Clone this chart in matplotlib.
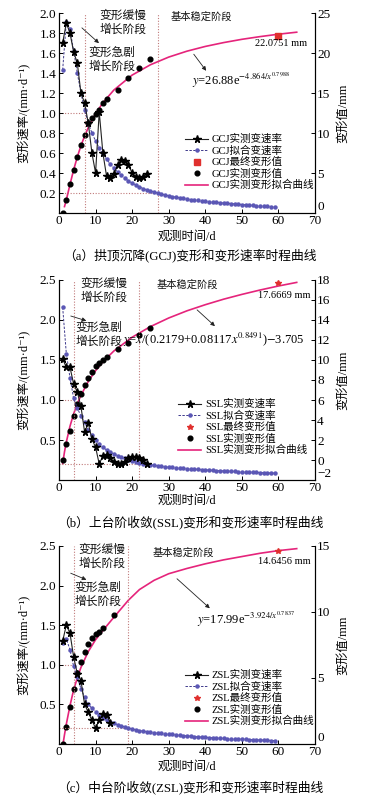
import matplotlib
matplotlib.use('Agg')
import matplotlib.pyplot as plt
from matplotlib.lines import Line2D

plt.rcParams['font.family'] = ['Liberation Serif', 'Noto Sans CJK SC', 'DejaVu Sans']
plt.rcParams['mathtext.fontset'] = 'stix'
plt.rcParams['axes.linewidth'] = 0.8

# ---------------- data ----------------
fit_days = list(range(1, 60))

# GCJ (a)
gcj_rate_days = list(range(1, 25))
gcj_rate = [1.70, 1.90, 1.80, 1.61, 1.50, 1.20, 1.10, 0.90, 0.60, 0.40, 1.01, 0.60,
            0.37, 0.35, 0.39, 0.48, 0.53, 0.52, 0.48, 0.40, 0.36, 0.35, 0.36, 0.39]
gcj_fit_rate = [1.43, 1.91, 1.84, 1.62, 1.40, 1.20, 1.03, 0.90, 0.80, 0.72, 0.65, 0.59,
                0.54, 0.49, 0.45, 0.41, 0.38, 0.35, 0.32, 0.30, 0.28, 0.26, 0.245, 0.23,
                0.22, 0.21, 0.20, 0.19, 0.18, 0.172, 0.165, 0.158, 0.152, 0.146, 0.14,
                0.135, 0.13, 0.126, 0.122, 0.118, 0.114, 0.11, 0.107, 0.104, 0.10, 0.097,
                0.094, 0.091, 0.088, 0.085, 0.082, 0.079, 0.076, 0.073, 0.07, 0.068,
                0.066, 0.063, 0.06]
gcj_def_days = [1, 2, 3, 4, 5, 6, 7, 8, 9, 10, 11, 12, 13, 16, 19, 22, 25]
gcj_def = [0.0, 1.6, 3.6, 5.4, 7.0, 8.5, 9.75, 11.3, 11.9, 12.4, 12.9, 13.7, 14.2,
           15.4, 16.9, 18.1, 19.2]
gcj_curve_x = [1.5, 2, 2.5, 3, 4, 5, 6, 7, 8, 10, 12, 15, 20, 25, 30, 35, 40, 45, 50, 55, 60, 65]
gcj_curve_y = [0.80, 1.64, 2.59, 3.56, 5.39, 7.00, 8.41, 9.62, 10.67, 12.41, 13.78, 15.37,
               17.24, 18.53, 19.49, 20.23, 20.82, 21.30, 21.71, 22.05, 22.35, 22.60]
gcj_final = (60, 22.0751)
gcj_stage = [7, 27]

# SSL (b)
ssl_rate_days = list(range(1, 25))
ssl_rate = [1.51, 1.41, 1.41, 1.20, 1.10, 0.92, 0.60, 0.71, 0.51, 0.41, 0.20, 0.30,
            0.31, 0.27, 0.23, 0.20, 0.20, 0.23, 0.27, 0.29, 0.29, 0.28, 0.25, 0.20]
ssl_fit_rate = [2.16, 1.58, 1.28, 1.02, 0.90, 0.80, 0.72, 0.63, 0.56, 0.50, 0.45, 0.41,
                0.375, 0.35, 0.325, 0.305, 0.285, 0.27, 0.255, 0.24, 0.225, 0.215, 0.205,
                0.198, 0.19, 0.183, 0.177, 0.171, 0.166, 0.161, 0.157, 0.153, 0.149,
                0.145, 0.142, 0.139, 0.136, 0.133, 0.13, 0.127, 0.124, 0.121, 0.118,
                0.116, 0.113, 0.111, 0.109, 0.107, 0.105, 0.103, 0.101, 0.099, 0.097,
                0.095, 0.093, 0.091, 0.089, 0.087, 0.085]
ssl_def_days = [1, 2, 3, 4, 5, 6, 7, 8, 9, 10, 11, 12, 13, 16, 19, 22, 25]
ssl_def = [0.0, 1.6, 2.9, 4.4, 5.6, 6.6, 7.5, 8.2, 8.8, 9.4, 9.7, 10.0, 10.3,
           11.1, 11.7, 12.5, 13.2]
ssl_curve_x = [1, 1.5, 2, 3, 4, 5, 6, 8, 10, 12, 15, 20, 25, 30, 35, 40, 45, 50, 55, 60, 65]
ssl_curve_y = [-0.36, 0.81, 1.79, 3.37, 4.61, 5.62, 6.47, 7.85, 8.93, 9.82, 10.90, 12.28,
               13.34, 14.20, 14.92, 15.53, 16.08, 16.56, 17.00, 17.40, 17.76]
ssl_final = (60, 17.6669)
ssl_stage = [4, 22]

# ZSL (c)
zsl_rate_days = list(range(1, 15))
zsl_rate = [1.30, 1.50, 1.40, 1.10, 0.89, 0.80, 0.50, 0.40, 0.30, 0.20, 0.30, 0.38,
            0.37, 0.27]
zsl_fit_rate = [1.27, 1.33, 1.19, 0.98, 0.84, 0.70, 0.59, 0.50, 0.45, 0.41, 0.37, 0.33,
                0.30, 0.28, 0.26, 0.245, 0.23, 0.215, 0.20, 0.19, 0.18, 0.17, 0.163,
                0.157, 0.151, 0.145, 0.14, 0.135, 0.13, 0.125, 0.12, 0.115, 0.11, 0.106,
                0.102, 0.098, 0.094, 0.09, 0.087, 0.084, 0.081, 0.078, 0.075, 0.072,
                0.07, 0.068, 0.066, 0.064, 0.062, 0.06, 0.058, 0.056, 0.054, 0.052,
                0.05, 0.048, 0.046, 0.044, 0.042]
zsl_def_days = [1, 2, 3, 4, 5, 6, 7, 8, 9, 10, 11, 12, 15]
zsl_def = [0.0, 1.26, 2.8, 4.2, 5.4, 6.2, 7.0, 7.6, 8.0, 8.3, 8.5, 8.8, 9.8]
zsl_curve_x = [1.1, 1.5, 2, 3, 4, 5, 6, 7, 8, 10, 12, 15, 19, 22, 26, 30, 35, 40, 45, 50,
               55, 60, 65]
zsl_curve_y = [0.0, 0.7, 1.5, 2.9, 4.1, 5.0, 5.8, 6.4, 7.0, 7.9, 8.6, 9.6, 10.9, 11.7,
               12.4, 12.9, 13.3, 13.65, 13.95, 14.2, 14.45, 14.65, 14.8]
zsl_final = (60, 14.6456)
zsl_stage = [4, 19]

thresholds = [1.0, 0.2]

# ---------------- styling ----------------
W, H = 366, 799
fig = plt.figure(figsize=(W / 100, H / 100), dpi=100)

PINK = '#e5247b'
NAVY = '#3f3a8c'
GUIDE = '#c07a7a'
TICK_FS = 9.5
LEG_FS = 7.6
TXT_FS = 8.5


def fx(px):
    return px / W


def fy(py):
    return 1 - py / H


def panel(top, bottom, name, cap, rdays, rate, fdef_days, fdef, cx, cy,
          final, stage, fit_rate, ylim_l, yticks_l, ylim_r, yticks_r,
          final_marker, final_label, final_xy, formula, formula_xy, farrow,
          slow_xy, stable_xy, fast_xy, sarrow, leg_xy, xlabel_y, cap_y):
    ax = fig.add_axes([fx(59), fy(bottom), fx(315) - fx(59), fy(top) - fy(bottom)])
    ax2 = ax.twinx()
    ax.set_xlim(0, 70)
    ax.set_ylim(*ylim_l)
    ax2.set_ylim(*ylim_r)
    ax.set_xticks(range(0, 71, 10))
    ax.set_yticks(yticks_l)
    ax2.set_yticks(yticks_r)
    ax.set_yticklabels([f'{v:.1f}' for v in yticks_l])
    ax2.set_yticklabels([f'{v:g}'.replace('-', '\u2212') for v in yticks_r])
    for a in (ax, ax2):
        a.spines['top'].set_visible(False)
        a.tick_params(direction='in', length=3, width=0.7, labelsize=TICK_FS, pad=1.5)
    ax.tick_params(axis='y', pad=2)
    ax2.get_yticklabels()[0].set_verticalalignment('bottom')
    ax.set_zorder(ax2.get_zorder() + 1)
    ax.patch.set_visible(False)

    # guide lines
    gl = dict(color=GUIDE, ls=(0, (1, 1.5)), lw=0.8, zorder=1)
    for s in stage:
        ax.axvline(s, **gl)
    ax.plot([0, stage[0]], [thresholds[0]] * 2, **gl)
    ax.plot([0, stage[1]], [thresholds[1]] * 2, **gl)

    # right axis: deformation
    ax2.plot(cx, cy, color=PINK, lw=1.2, zorder=2)
    ax2.plot(fdef_days, fdef, 'o', color='black', ms=3.4, zorder=3)
    ax2.plot([final[0]], [final[1]], final_marker, color='#e0302e', ms=4, zorder=3)

    # left axis: rates
    ax.plot(fit_days, fit_rate, ls=(0, (2.5, 1.5)), color=NAVY, lw=0.7,
            marker='o', ms=2.2, mfc='#5b57b5', mec='#5b57b5', zorder=4)
    ax.plot(rdays, rate, '-', color='#222222', lw=0.8, marker='*', ms=5.5,
            mfc='black', mec='black', zorder=5)

    tkw = dict(fontsize=TXT_FS, color='#111111')
    ax.text(*slow_xy, '变形缓慢\n增长阶段', ha='center', va='center', linespacing=1.2, **tkw)
    ax.text(*stable_xy, '基本稳定阶段', ha='center', va='center', fontsize=7.4, color='#111111')
    ax.text(*fast_xy, '变形急剧\n增长阶段', ha='center', va='center', linespacing=1.2, **tkw)
    ax.annotate('', xy=sarrow[1], xytext=sarrow[0],
                arrowprops=dict(arrowstyle='-|>', lw=0.6, color='#222222', mutation_scale=6))
    ax.annotate('', xy=farrow[1], xytext=farrow[0],
                arrowprops=dict(arrowstyle='-|>', lw=0.6, color='#222222', mutation_scale=6))
    ax.text(*formula_xy, formula, ha='left', va='center', fontsize=9)
    ax.text(*final_xy, final_label, ha='left', va='center', fontsize=7.5)

    handles = [
        Line2D([], [], color='#222222', lw=0.8, marker='*', ms=5.5, mfc='black', mec='black'),
        Line2D([], [], color=NAVY, lw=0.7, ls=(0, (2.5, 1.5)), marker='o', ms=2.2,
               mfc='#5b57b5', mec='#5b57b5'),
        Line2D([], [], ls='none', marker=final_marker, color='#e0302e', ms=4),
        Line2D([], [], ls='none', marker='o', color='black', ms=3.4),
        Line2D([], [], color=PINK, lw=1.2),
    ]
    labels = [f'{name}实测变速率', f'{name}拟合变速率', f'{name}最终变形值',
              f'{name}实测变形值', f'{name}实测变形拟合曲线']
    ax.legend(handles, labels, loc='upper left', bbox_to_anchor=(fx(leg_xy[0]), fy(leg_xy[1])),
              bbox_transform=fig.transFigure, frameon=False, fontsize=LEG_FS,
              borderpad=0, borderaxespad=0, handlelength=2.2, handletextpad=0.35,
              labelspacing=0.12)

    ax.set_ylabel('变形速率/(mm·d⁻¹)', fontsize=8.8)
    ax.yaxis.set_label_coords((31 - 59) / 256, 0.5)
    ax2.set_ylabel('变形值/mm', fontsize=8.8)
    ax2.yaxis.set_label_coords((337 - 59) / 256, 0.5)
    fig.text(fx(187), fy(xlabel_y), '观测时间/d', ha='center', va='center', fontsize=8.8)
    fig.text(fx(190), fy(cap_y), cap, ha='center', va='center', fontsize=9.2)
    return ax, ax2


panel(13, 213, 'GCJ', '（a）拱顶沉降(GCJ)变形和变形速率时程曲线',
      gcj_rate_days, gcj_rate, gcj_def_days, gcj_def, gcj_curve_x, gcj_curve_y,
      gcj_final, gcj_stage, gcj_fit_rate, (0, 2.0), [0.2, 0.4, 0.6, 0.8, 1.0, 1.2, 1.4, 1.6, 1.8, 2.0],
      (0, 25), [0, 5, 10, 15, 20, 25], 's', '22.0751 mm', (53.6, 1.70),
      r'$y$=26.88e$^{-4.864/x^{0.7988}}$', (36.4, 1.33), ((36.4, 1.61), (40.7, 1.40)),
      (17.5, 1.90), (38.8, 1.96), (14.5, 1.53), ((5.7, 1.87), (11.5, 1.68)),
      (185, 134), 237, 255)

panel(280, 480, 'SSL', '（b）上台阶收敛(SSL)变形和变形速率时程曲线',
      ssl_rate_days, ssl_rate, ssl_def_days, ssl_def, ssl_curve_x, ssl_curve_y,
      ssl_final, ssl_stage, ssl_fit_rate, (0, 2.5), [0.5, 1.0, 1.5, 2.0, 2.5],
      (-2, 18), list(range(-2, 19, 2)), '*', '17.6669 mm', (54.4, 2.31),
      r'$y$=$x$/(0.2179+0.08117$x^{0.8491}$)$-$3.705', (17.5, 1.75),
      ((37.2, 2.15), (43.2, 1.90)),
      (12.3, 2.36), (35.0, 2.44), (10.9, 1.81), ((2.5, 2.06), (8.2, 1.98)),
      (178, 399), 501, 522)

panel(546, 744, 'ZSL', '（c）中台阶收敛(ZSL)变形和变形速率时程曲线',
      zsl_rate_days, zsl_rate, zsl_def_days, zsl_def, zsl_curve_x, zsl_curve_y,
      zsl_final, zsl_stage, zsl_fit_rate, (0, 2.5), [0.5, 1.0, 1.5, 2.0, 2.5],
      (0, 15), [0, 5, 10, 15], '*', '14.6456 mm', (54.4, 2.31),
      r'$y$=17.99e$^{-3.924/x^{0.7837}}$', (37.7, 1.57), ((31.7, 2.11), (41.8, 1.69)),
      (11.8, 2.36), (33.9, 2.41), (10.7, 1.88), ((2.5, 2.17), (8.2, 2.06)),
      (185, 670), 767, 787)

fig.savefig('out.png', dpi=100)
